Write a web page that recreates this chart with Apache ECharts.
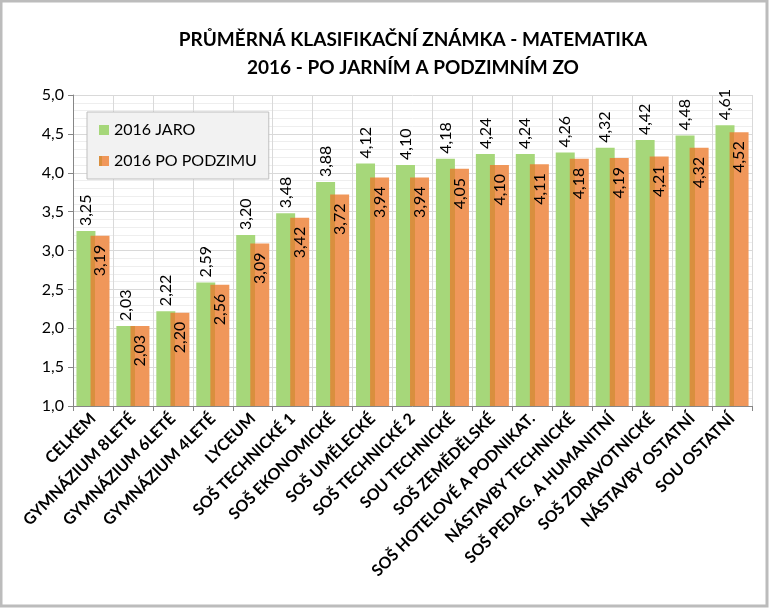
<!DOCTYPE html>
<html><head><meta charset="utf-8">
<script src="https://cdn.jsdelivr.net/npm/echarts@6/dist/echarts.min.js"></script>
<style>html,body{margin:0;padding:0;background:#fff}#c{width:769px;height:608px}</style>
</head><body><div id="c"></div>
<script>
const categories = ['CELKEM','GYMNÁZIUM 8LETÉ','GYMNÁZIUM 6LETÉ','GYMNÁZIUM 4LETÉ','LYCEUM','SOŠ TECHNICKÉ 1','SOŠ EKONOMICKÉ','SOŠ UMĚLECKÉ','SOŠ TECHNICKÉ 2','SOU TECHNICKÉ','SOŠ ZEMĚDĚLSKÉ','SOŠ HOTELOVÉ A PODNIKAT.','NÁSTAVBY TECHNICKÉ','SOŠ PEDAG. A HUMANITNÍ','SOŠ ZDRAVOTNICKÉ','NÁSTAVBY OSTATNÍ','SOU OSTATNÍ'];
const jaro = [3.25,2.03,2.22,2.59,3.20,3.48,3.88,4.12,4.10,4.18,4.24,4.24,4.26,4.32,4.42,4.48,4.61];
const podzim = [3.19,2.03,2.20,2.56,3.09,3.42,3.72,3.94,3.94,4.05,4.10,4.11,4.18,4.19,4.21,4.32,4.52];
const seriesNames = ['2016 JARO','2016 PO PODZIMU'];
const titleLines = ['PRŮMĚRNÁ KLASIFIKAČNÍ ZNÁMKA - MATEMATIKA','2016 - PO JARNÍM A PODZIMNÍM ZO'];

const FONT = 'Lato';
const fmt = v => v.toFixed(2).replace('.', ',');
const chart = echarts.init(document.getElementById('c'), null, {renderer:'canvas'});
chart.setOption({
  animation:false,
  backgroundColor:'#fff',
  textStyle:{fontFamily:FONT},
  title:{
    text: titleLines.join('\n'),
    left: 408, top: 21, textAlign:'center',
    textStyle:{fontFamily:FONT, fontWeight:'bold', fontSize:19, color:'#000', lineHeight:28}
  },
  graphic:[{type:'rect', shape:{x:1,y:1,width:766,height:605}, style:{fill:'none', stroke:'#bcbcbc', lineWidth:3}, z:100}],
  legend:{
    orient:'vertical', left:87, top:112,
    padding:[10,12,10,12], itemGap:15,
    backgroundColor:'#f2f2f2', borderColor:'#bfbfbf', borderWidth:1,
    icon:'rect', itemWidth:10, itemHeight:10,
    textStyle:{fontFamily:FONT, fontSize:16, color:'#000'},
    data: seriesNames
  },
  grid:{left:73, right:17, top:95, bottom:202, containLabel:false},
  xAxis:{
    type:'category', data:categories,
    axisLine:{lineStyle:{color:'#868686'}},
    axisTick:{show:true, length:5, lineStyle:{color:'#868686'}},
    splitLine:{show:true, lineStyle:{color:'#d9d9d9'}},
    axisLabel:{rotate:45, interval:0, fontFamily:FONT, fontWeight:'bold', fontSize:16, color:'#000', margin:10}
  },
  yAxis:{
    type:'value', min:1, max:5, interval:0.5,
    axisLine:{show:true, lineStyle:{color:'#868686'}},
    axisTick:{show:true, length:5, inside:false, lineStyle:{color:'#868686'}},
    minorTick:{show:false, splitNumber:5},
    minorSplitLine:{show:true, lineStyle:{color:'#eeeeee'}},
    splitLine:{lineStyle:{color:'#d9d9d9'}},
    axisLabel:{fontFamily:FONT, fontSize:16, color:'#000', margin:9, formatter:v=>v.toFixed(1).replace('.', ',')}
  },
  series:[
    {name:seriesNames[0], type:'bar', data:jaro, barWidth:19, barGap:'-26%',
     itemStyle:{color:'#a6d77a'},
     label:{show:true, position:'top', rotate:90, align:'left', verticalAlign:'middle', distance:5,
       fontFamily:FONT, fontSize:16, color:'#000', formatter:p=>fmt(p.value)}},
    {name:seriesNames[1], type:'bar', data:podzim, barWidth:19,
     itemStyle:{color:{type:'linear', x:0,y:0,x2:1,y2:0, colorStops:[
       {offset:0,color:'#d98f3e'},{offset:0.26,color:'#d98f3e'},{offset:0.26,color:'#f0975a'},{offset:1,color:'#f0975a'}]}},
     label:{show:true, position:'insideTop', rotate:90, align:'right', verticalAlign:'middle', distance:9,
       fontFamily:FONT, fontSize:16, color:'#000', formatter:p=>fmt(p.value)}}
  ]
});
</script></body></html>
